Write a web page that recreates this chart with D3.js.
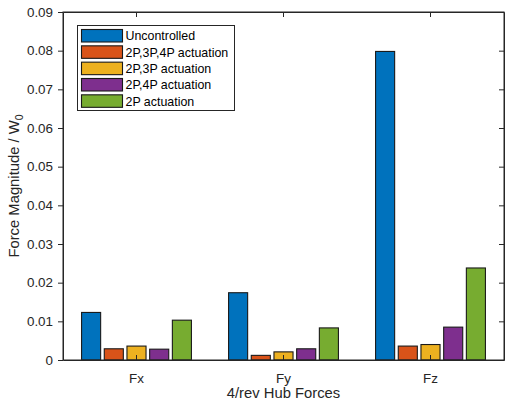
<!DOCTYPE html>
<html>
<head>
<meta charset="utf-8">
<script src="https://cdn.jsdelivr.net/npm/d3@7"></script>
<style>
  html, body { margin: 0; padding: 0; background: #fff; }
  svg { display: block; font-family: "Liberation Sans", Arial, Helvetica, sans-serif; }
</style>
</head>
<body>
<svg id="chart" width="505" height="402"></svg>
<script>
// Hub force categories and the control cases compared for each
const categories = ["Fx", "Fy", "Fz"];
const seriesNames = ["Uncontrolled", "2P,3P,4P actuation", "2P,3P actuation", "2P,4P actuation", "2P actuation"];
const seriesColors = ["#0072BD", "#D95319", "#EDB120", "#7E2F8E", "#77AC30"];

// Normalised 4/rev force magnitude, one array per control case (Fx, Fy, Fz)
const uncontrolled = [0.0123, 0.0174, 0.0798];
const act234 = [0.0029, 0.0012, 0.0036];
const act23 = [0.0036, 0.0021, 0.0040];
const act24 = [0.0028, 0.0029, 0.0085];
const act2 = [0.0103, 0.0083, 0.0238];
const seriesValues = [uncontrolled, act234, act23, act24, act2];

const yTicks = [0, 0.01, 0.02, 0.03, 0.04, 0.05, 0.06, 0.07, 0.08, 0.09];

const svg = d3.select("#chart");
const axisColor = "#262626";
const plot = { left: 63, right: 504, top: 12, bottom: 360 };

const x0 = d3.scaleBand().domain(categories).range([plot.left, plot.right]).padding(0);
const groupHalf = x0.bandwidth() * 0.386;
const x1 = d3.scaleBand().domain(d3.range(seriesNames.length))
  .range([-groupHalf, groupHalf]).paddingInner(0.16).paddingOuter(0.08);
const y = d3.scaleLinear().domain([0, 0.09]).range([plot.bottom, plot.top]);

// Bars
const rows = [];
seriesValues.forEach((vals, s) => {
  vals.forEach((v, c) => rows.push({ s, c, v }));
});
svg.append("g").selectAll("rect").data(rows).join("rect")
  .attr("x", d => x0(categories[d.c]) + x0.bandwidth() / 2 + x1(d.s))
  .attr("y", d => y(d.v))
  .attr("width", x1.bandwidth())
  .attr("height", d => y(0) - y(d.v))
  .attr("fill", d => seriesColors[d.s])
  .attr("stroke", "#1a1a1a")
  .attr("stroke-width", 1.1);

// Axes (box with ticks on all four sides)
const tickFmt = v => v === 0 ? "0" : d3.format(".2f")(v);
const gy = svg.append("g").attr("transform", `translate(${plot.left},0)`)
  .call(d3.axisLeft(y).tickValues(yTicks).tickFormat(tickFmt).tickSize(5).tickSizeOuter(0).tickPadding(5));
const gyr = svg.append("g").attr("transform", `translate(${plot.right},0)`)
  .call(d3.axisRight(y).tickValues(yTicks).tickFormat("").tickSize(-5).tickSizeOuter(0));
const gx = svg.append("g").attr("transform", `translate(0,${plot.bottom})`)
  .call(d3.axisBottom(x0).tickSize(-5).tickSizeOuter(0).tickPadding(13));
const gxt = svg.append("g").attr("transform", `translate(0,${plot.top})`)
  .call(d3.axisTop(x0).tickSize(-5).tickSizeOuter(0).tickFormat(""));

[gy, gyr, gx, gxt].forEach(g => {
  g.selectAll("path.domain").attr("stroke", axisColor).attr("stroke-width", 1);
  g.selectAll(".tick line").attr("stroke", axisColor).attr("stroke-width", 1);
  g.selectAll("text").attr("fill", axisColor).style("font-size", "13.4px")
    .style("font-family", "'Liberation Sans', Arial, sans-serif");
});
// Full box outline
svg.append("rect")
  .attr("x", plot.left).attr("y", plot.top)
  .attr("width", plot.right - plot.left).attr("height", plot.bottom - plot.top)
  .attr("fill", "none").attr("stroke", axisColor).attr("stroke-width", 1);

// Axis titles
svg.append("text")
  .attr("x", (plot.left + plot.right) / 2).attr("y", 398)
  .attr("text-anchor", "middle").attr("fill", axisColor)
  .style("font-size", "14.8px")
  .text("4/rev Hub Forces");

const yl = svg.append("text")
  .attr("transform", `translate(19,${(plot.top + plot.bottom) / 2}) rotate(-90)`)
  .attr("text-anchor", "middle").attr("fill", axisColor)
  .style("font-size", "14.8px");
yl.append("tspan").text("Force Magnitude / W");
yl.append("tspan").attr("dy", 4).style("font-size", "10.5px").text("0");

// Legend
const legend = svg.append("g");
legend.append("rect")
  .attr("x", 77.5).attr("y", 25.5).attr("width", 157).attr("height", 85)
  .attr("fill", "#fff").attr("stroke", axisColor).attr("stroke-width", 1);
const items = legend.selectAll("g.item").data(seriesNames).join("g")
  .attr("class", "item")
  .attr("transform", (d, i) => `translate(0,${29.5 + i * 16.33})`);
items.append("rect")
  .attr("x", 81.5).attr("y", 0).attr("width", 41).attr("height", 12.5)
  .attr("fill", (d, i) => seriesColors[i])
  .attr("stroke", "#1a1a1a").attr("stroke-width", 1.1);
items.append("text")
  .attr("x", 125.5).attr("y", 10.7)
  .attr("fill", "#000")
  .style("font-size", "12.4px")
  .text(d => d);
</script>
</body>
</html>
